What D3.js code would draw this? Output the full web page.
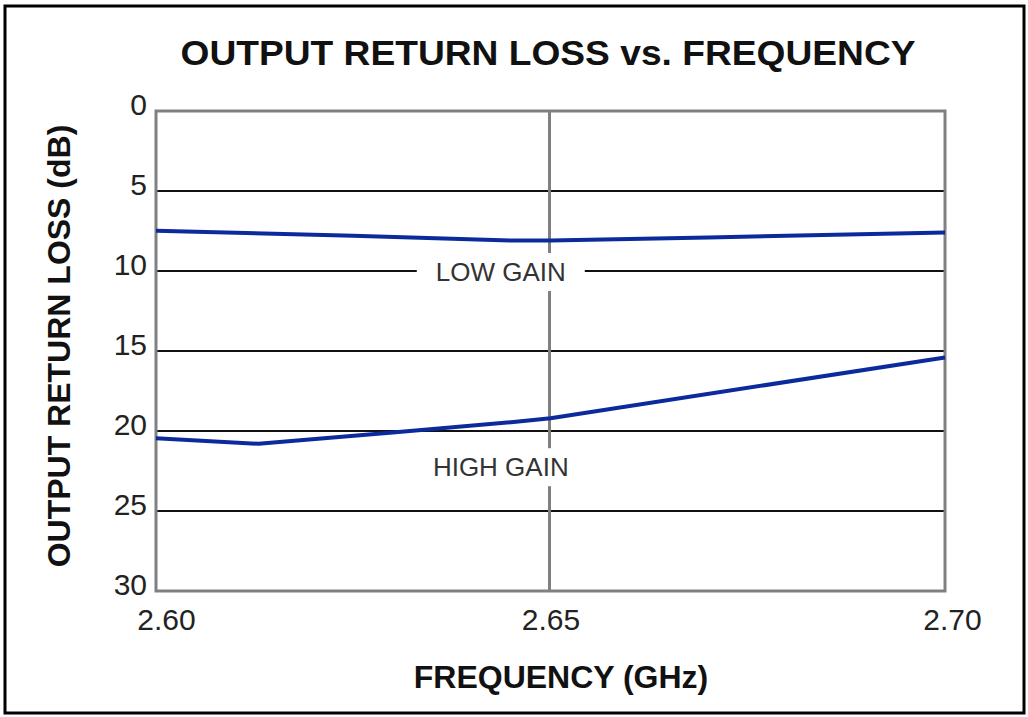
<!DOCTYPE html>
<html>
<head>
<meta charset="utf-8">
<script src="https://cdn.jsdelivr.net/npm/d3@7"></script>
<style>
  html, body { margin: 0; padding: 0; background: #fff; }
  svg { display: block; }
  text { font-family: "Liberation Sans", Arial, Helvetica, sans-serif; }
</style>
</head>
<body>
<svg id="chart" width="1028" height="717"></svg>
<script>
// ---- data ----
const title = "OUTPUT RETURN LOSS vs. FREQUENCY";
const xLabel = "FREQUENCY (GHz)";
const yLabel = "OUTPUT RETURN LOSS (dB)";
const xTicks = [2.60, 2.65, 2.70];
const xTickLabels = ["2.60", "2.65", "2.70"];
const yTicks = [0, 5, 10, 15, 20, 25, 30];
const lowGainFreq = [2.600, 2.625, 2.645, 2.650, 2.670, 2.700];
const lowGainLoss = [7.48, 7.8, 8.1, 8.1, 7.9, 7.6];
const highGainFreq = [2.600, 2.613, 2.630, 2.645, 2.650, 2.700];
const highGainLoss = [20.45, 20.8, 20.1, 19.45, 19.2, 15.4];
const seriesNames = ["LOW GAIN", "HIGH GAIN"];
const labelPos = [{ f: 2.6437, v: 10 }, { f: 2.6437, v: 22.2 }];

// ---- layout ----
const svg = d3.select("#chart");
const pLeft = 156, pRight = 945, pTop = 111, pBottom = 591;
const x = d3.scaleLinear().domain([2.60, 2.70]).range([pLeft, pRight]);
const y = d3.scaleLinear().domain([0, 30]).range([pTop, pBottom]);

// outer border
svg.append("rect").attr("x", 5).attr("y", 6).attr("width", 1019).attr("height", 707)
  .attr("fill", "#fff").attr("stroke", "#000").attr("stroke-width", 3);

// horizontal gridlines
svg.append("g").selectAll("line").data(yTicks.filter(d => d > 0 && d < 30)).join("line")
  .attr("x1", pLeft).attr("x2", pRight).attr("y1", d => y(d)).attr("y2", d => y(d))
  .attr("stroke", "#111").attr("stroke-width", 2);

// vertical gridline
svg.append("g").selectAll("line").data(xTicks.filter(d => d > 2.6 && d < 2.7)).join("line")
  .attr("x1", d => x(d) - 1).attr("x2", d => x(d) - 1).attr("y1", pTop).attr("y2", pBottom)
  .attr("stroke", "#808080").attr("stroke-width", 3);

// label backgrounds (break gridlines)
const fs = 26;
const labG = svg.append("g");
seriesNames.forEach((name, i) => {
  const t = labG.append("text").attr("x", x(labelPos[i].f)).attr("y", y(labelPos[i].v) + 10)
    .attr("text-anchor", "middle").attr("font-size", fs).attr("fill", "#333").text(name);
  const bb = t.node().getBBox();
  labG.insert("rect", "text").attr("x", bb.x - 19).attr("y", bb.y - 4)
    .attr("width", bb.width + 38).attr("height", bb.height + 8).attr("fill", "#fff");
});

// plot frame
svg.append("rect").attr("x", pLeft).attr("y", pTop).attr("width", pRight - pLeft).attr("height", pBottom - pTop)
  .attr("fill", "none").attr("stroke", "#808080").attr("stroke-width", 3);

// lines
const line = d3.line().x(d => x(d[0])).y(d => y(d[1]));
const series = [d3.zip(lowGainFreq, lowGainLoss), d3.zip(highGainFreq, highGainLoss)];
svg.append("g").selectAll("path").data(series).join("path")
  .attr("d", line).attr("fill", "none").attr("stroke", "#0b2a9c").attr("stroke-width", 4)
  .attr("stroke-linejoin", "round");

// y axis
const yAxis = d3.axisLeft(y).tickValues(yTicks).tickSize(0).tickPadding(9).tickFormat(d3.format("d"));
const gy = svg.append("g").attr("transform", `translate(${pLeft},0)`).call(yAxis);
gy.select(".domain").remove();
gy.selectAll("text").attr("font-size", 30).attr("fill", "#222")
  .attr("font-family", "Liberation Sans, Arial, sans-serif").attr("dy", "0.12em");

// x axis
const xAxis = d3.axisBottom(x).tickValues(xTicks).tickSize(0).tickPadding(18).tickFormat((d, i) => xTickLabels[i]);
const gx = svg.append("g").attr("transform", `translate(0,${pBottom})`).call(xAxis);
gx.select(".domain").remove();
gx.selectAll("text").attr("font-size", 30).attr("fill", "#222")
  .attr("font-family", "Liberation Sans, Arial, sans-serif")
  .attr("dx", (d, i) => [10, 0, 7][i]);

// titles
svg.append("text").attr("x", 548).attr("y", 65).attr("text-anchor", "middle")
  .attr("font-size", 35).attr("font-weight", "bold").attr("fill", "#111")
  .attr("textLength", 735).attr("lengthAdjust", "spacingAndGlyphs").text(title);
svg.append("text").attr("x", 561).attr("y", 688).attr("text-anchor", "middle")
  .attr("font-size", 32).attr("font-weight", "bold").attr("fill", "#111").text(xLabel);
svg.append("text").attr("transform", "translate(70,346) rotate(-90)").attr("text-anchor", "middle")
  .attr("font-size", 32).attr("font-weight", "bold").attr("fill", "#111").text(yLabel);
</script>
</body>
</html>
